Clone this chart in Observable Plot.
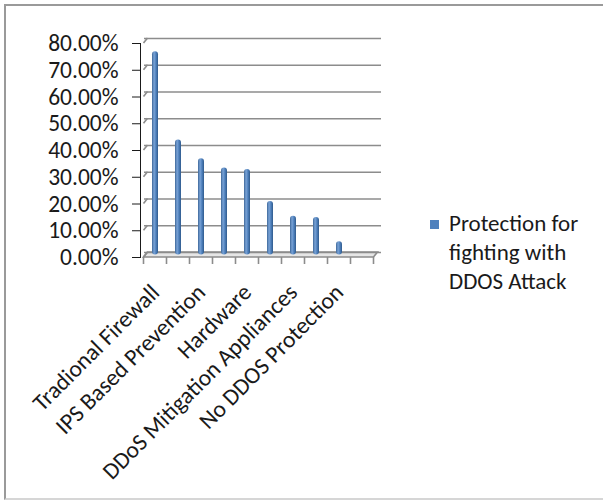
<!DOCTYPE html>
<html><head><meta charset="utf-8">
<script src="https://cdn.jsdelivr.net/npm/d3@7"></script>
<script src="https://cdn.jsdelivr.net/npm/@observablehq/plot@0.6"></script>
<style>
html,body{margin:0;padding:0;background:#fff;}
#wrap{position:relative;width:603px;height:504px;overflow:hidden;font-family:Carlito,Calibri,Lato,sans-serif;color:#1a1a1a;}
#frame{position:absolute;left:4px;top:4px;width:660px;height:496px;border-left:2px solid #9a9a9a;border-top:2px solid #9a9a9a;border-bottom:2px solid #d6d6d6;box-sizing:border-box;}
#chart{position:absolute;left:0;top:0;}
#legend{position:absolute;left:430px;top:209px;font-size:23px;line-height:29px;}
#legend .sw{position:absolute;left:0;top:11px;width:9px;height:9px;background:#4f81bd;}
#legend .tx{margin-left:19px;}
</style></head>
<body>
<div id="wrap"><div id="frame"></div><div id="chart"></div>
<div id="legend"><div class="sw"></div><div class="tx"></div></div></div>
<script>
const slots = [1, 2, 3, 4, 5, 6, 7, 8, 9, 10];
const tickLabels = ["Tradional Firewall", "", "IPS Based Prevention", "", "Hardware", "", "DDoS Mitigation Appliances", "", "No DDOS Protection", ""];
const values = [0.76, 0.43, 0.36, 0.325, 0.32, 0.20, 0.145, 0.14, 0.05, null];
const yTicks = [0, 0.1, 0.2, 0.3, 0.4, 0.5, 0.6, 0.7, 0.8];
const seriesName = "Protection for fighting with DDOS Attack";
const legendLines = ["Protection for", "fighting with", "DDOS Attack"];

const data = slots.map((s, i) => ({slot: s, value: values[i]}));
const font = "Carlito, Calibri, Lato, sans-serif";

const chart = Plot.plot({
  width: 603, height: 504,
  marginLeft: 140, marginRight: 226, marginTop: 43, marginBottom: 247,
  style: {fontFamily: font, fontSize: "23.5px", color: "#1a1a1a", background: "transparent", overflow: "visible"},
  x: {domain: slots, paddingInner: 0.74, paddingOuter: 0.37, tickSize: 0, tickPadding: 31, tickRotate: -45,
      tickFormat: (d, i) => tickLabels[slots.indexOf(d)], label: null},
  y: {domain: [0, 0.8], ticks: yTicks, tickFormat: d3.format(".2%"), tickSize: 8, tickPadding: 14, label: null, line: true},
  marks: [
    Plot.ruleY(yTicks, {dx: 4, dy: -5, stroke: "#8c8c8c", strokeWidth: 1.6}),
    Plot.barY(data.filter(d => d.value != null), {x: "slot", y: "value", dy: -2.5, fill: "url(#barGrad)", rx: 3, title: d => seriesName})
  ]
});

const svg = d3.select(chart);
const defs = svg.insert("defs", ":first-child");
const g = defs.append("linearGradient").attr("id", "barGrad").attr("x1", 0).attr("x2", 1).attr("y1", 0).attr("y2", 0);
g.append("stop").attr("offset", "0%").attr("stop-color", "#3d6799");
g.append("stop").attr("offset", "35%").attr("stop-color", "#7aa3d6");
g.append("stop").attr("offset", "65%").attr("stop-color", "#4f81bd");
g.append("stop").attr("offset", "100%").attr("stop-color", "#2f5a8c");

// 3D frame drawn with the chart's own scales
const xs = chart.scale("x"), ys = chart.scale("y");
const step = xs.step, bw = xs.bandwidth;
const centers = slots.map(s => xs.apply(s) + bw / 2);
const edges = [centers[0] - step / 2, ...centers.map(c => c + step / 2)];
const xL = edges[0], xR = edges[edges.length - 1];
const y0 = ys.apply(0);
const DX = 4, DY = -5;
const deco = svg.insert("g", "g[aria-label='rule']").attr("stroke", "#8c8c8c").attr("stroke-width", 1.6).attr("fill", "none");
deco.append("path").attr("d", `M${xL},${y0}L${xR},${y0}L${xR + DX},${y0 + DY}L${xL + DX},${y0 + DY}Z`).attr("fill", "#e6e6e6");
yTicks.forEach(v => {
  const y = ys.apply(v);
  deco.append("line").attr("x1", xL).attr("y1", y).attr("x2", xL + DX).attr("y2", y + DY);
});
edges.forEach(x => {
  deco.append("line").attr("x1", x).attr("y1", y0).attr("x2", x).attr("y2", y0 + 7);
});

document.getElementById("chart").appendChild(chart);
document.querySelector("#legend .tx").innerHTML = legendLines.join("<br>");
</script>
</body></html>
